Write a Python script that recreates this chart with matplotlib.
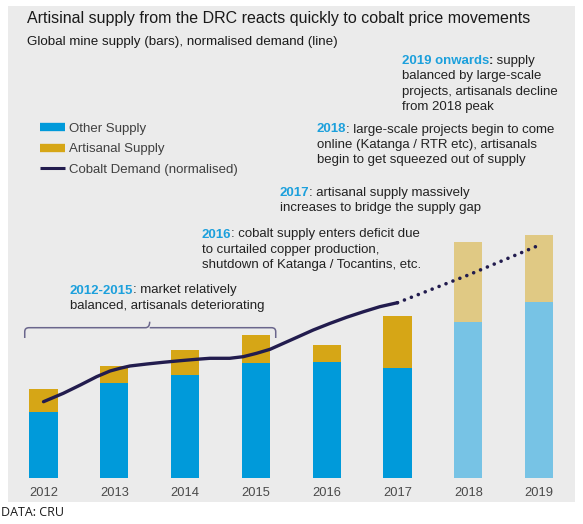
import matplotlib
matplotlib.use("Agg")
import matplotlib.pyplot as plt
from matplotlib.patches import Rectangle, PathPatch
from matplotlib.path import Path
from matplotlib.lines import Line2D

plt.rcParams["font.family"] = ["Liberation Sans", "DejaVu Sans"]

# data (arbitrary units, no y axis shown)
years = ["2012", "2013", "2014", "2015", "2016", "2017", "2018", "2019"]
forecast = ["2018", "2019"]
other_supply = [66, 94.7, 102.7, 114.4, 116, 110, 155.7, 175.7]
artisanal_supply = [22.7, 17, 25, 28.3, 16.7, 51.7, 80, 67]

# demand line, actuals (solid) and outlook (dotted)
demand_years = [2012.0, 2012.28, 2012.52, 2012.75, 2012.94, 2013.08, 2013.22,
                2013.46, 2013.69, 2013.93, 2014.16, 2014.35, 2014.63, 2014.82,
                2015.01, 2015.2, 2015.39, 2015.58, 2015.81, 2016.05, 2016.28,
                2016.52, 2016.75, 2017.0]
demand = [76, 84.4, 92.7, 101, 106.7, 109.4, 111.7, 113.7, 115.4, 117, 118.4,
          119.4, 119.4, 121, 124.4, 128.4, 134.4, 140.4, 147.7, 154.4, 160.4,
          166, 171, 175]
outlook_years = [2017.0, 2018.0, 2018.95]
outlook = [175, 202.7, 231]

OTHER = "#009ADA"
ARTISANAL = "#D6A616"
OTHER_F = "#77C3E5"
ARTISANAL_F = "#E0C984"
DEMAND = "#221C4E"
ACCENT = "#1CA0DC"
PANEL = "#EBEBEB"
TEXT = "#222222"

W, H = 583, 524
fig = plt.figure(figsize=(W / 100, H / 100), dpi=100)

def fx(px):
    return px / W

def fy(py):
    return 1 - py / H

# grey panel
fig.patches.append(Rectangle((fx(8.3), fy(502)), fx(575) - fx(8.3), fy(6) - fy(502),
                             transform=fig.transFigure, facecolor=PANEL,
                             edgecolor="none", zorder=-5))

ax = fig.add_axes([fx(8.1), fy(477.7), fx(566.4), 300 / H])
ax.set_facecolor("none")
ax.set_xlim(-0.5, 7.5)
ax.set_ylim(0, 300)
for s in ax.spines.values():
    s.set_visible(False)

x = list(range(len(years)))
c_other = [OTHER_F if y in forecast else OTHER for y in years]
c_art = [ARTISANAL_F if y in forecast else ARTISANAL for y in years]
ax.bar(x, other_supply, width=0.4, color=c_other, zorder=2)
ax.bar(x, artisanal_supply, width=0.4, bottom=other_supply, color=c_art, zorder=2)

base = int(years[0])
ax.plot([v - base for v in demand_years], demand, color=DEMAND, lw=2.4,
        solid_capstyle="round", solid_joinstyle="round", zorder=3)
ax.plot([v - base for v in outlook_years], outlook, color=DEMAND, lw=2.6,
        linestyle=(0, (0.01, 2.05)), dash_capstyle="round", zorder=3)

ax.set_xticks(x)
ax.set_xticklabels(years, fontsize=9.3, color="#4a4a4a")
ax.tick_params(axis="x", length=0, pad=7)
ax.set_yticks([])

# bracket over 2012-2015
xl, xm, xr = -0.265, 1.5, 3.28
yb, ye, yt = 150, 139.7, 156
k = 0.06
verts = [(xl, ye), (xl, yb - 4), (xl, yb), (xl + k, yb),
         (xm - k, yb), (xm, yb), (xm, yt),
         (xm, yb), (xm + k, yb),
         (xr - k, yb), (xr, yb), (xr, yb - 4), (xr, ye)]
codes = [Path.MOVETO, Path.LINETO, Path.CURVE3, Path.CURVE3,
         Path.LINETO, Path.CURVE3, Path.CURVE3,
         Path.MOVETO, Path.LINETO,
         Path.LINETO, Path.CURVE3, Path.CURVE3, Path.LINETO]
ax.add_patch(PathPatch(Path(verts, codes), facecolor="none",
                       edgecolor="#6A668C", lw=1.1, zorder=2))

# titles
fig.text(fx(26.7), fy(19), "Artisinal supply from the DRC reacts quickly to cobalt price movements",
         fontsize=11.5, color="#1a1a1a", va="center")
fig.text(fx(26.7), fy(42.3), "Global mine supply (bars), normalised demand (line)",
         fontsize=9.6, color="#1a1a1a", va="center")

# legend
handles = [Line2D([], [], color=OTHER, lw=6, solid_capstyle="butt"),
           Line2D([], [], color=ARTISANAL, lw=6, solid_capstyle="butt"),
           Line2D([], [], color=DEMAND, lw=2.2, solid_capstyle="butt")]
fig.legend(handles, ["Other Supply", "Artisanal Supply", "Cobalt Demand (normalised)"],
           loc="upper left", bbox_to_anchor=(fx(33), fy(116)), frameon=False,
           fontsize=9.5, handlelength=1.95, handletextpad=0.25, labelspacing=0.62,
           borderpad=0, labelcolor="#404040")

FS = 9.5
STEP = 15.3

def note(px, py, parts, lines):
    last = None
    for txt, col, wt in parts:
        if last is None:
            last = fig.text(fx(px), fy(py), txt, color=col, fontweight=wt,
                            fontsize=FS, va="center")
        else:
            last = ax.annotate(txt, xy=(1, 0.5), xycoords=last, va="center",
                               ha="left", color=col, fontweight=wt, fontsize=FS,
                               annotation_clip=False)
    for i, line in enumerate(lines):
        fig.text(fx(px), fy(py + STEP * (i + 1)), line, color=TEXT,
                 fontsize=FS, va="center")

note(401.5, 61, [("2019 onwards", ACCENT, "bold"), (":", TEXT, "bold"),
                 (" supply", TEXT, "normal")],
     ["balanced by large-scale", "projects, artisanals decline", "from 2018 peak"])
note(316.7, 129.5, [("2018", ACCENT, "bold"),
                    (": large-scale projects begin to come", TEXT, "normal")],
     ["online (Katanga / RTR etc), artisanals", "begin to get squeezed out of supply"])
note(279.6, 192.7, [("2017", ACCENT, "bold"),
                    (": artisanal supply massively", TEXT, "normal")],
     ["increases to bridge the supply gap"])
note(201.9, 234.5, [("2016", ACCENT, "bold"),
                    (": cobalt supply enters deficit due", TEXT, "normal")],
     ["to curtailed copper production,", "shutdown of Katanga / Tocantins, etc."])
note(69.9, 290.5, [("2012-2015", ACCENT, "bold"),
                   (": market relatively", TEXT, "normal")],
     ["balanced, artisanals deteriorating"])

fig.text(fx(1), fy(513), "DATA: CRU", fontsize=9, color="#1a1a1a", va="center",
         family=["Open Sans", "DejaVu Sans"])

fig.savefig("out.png", dpi=100)
